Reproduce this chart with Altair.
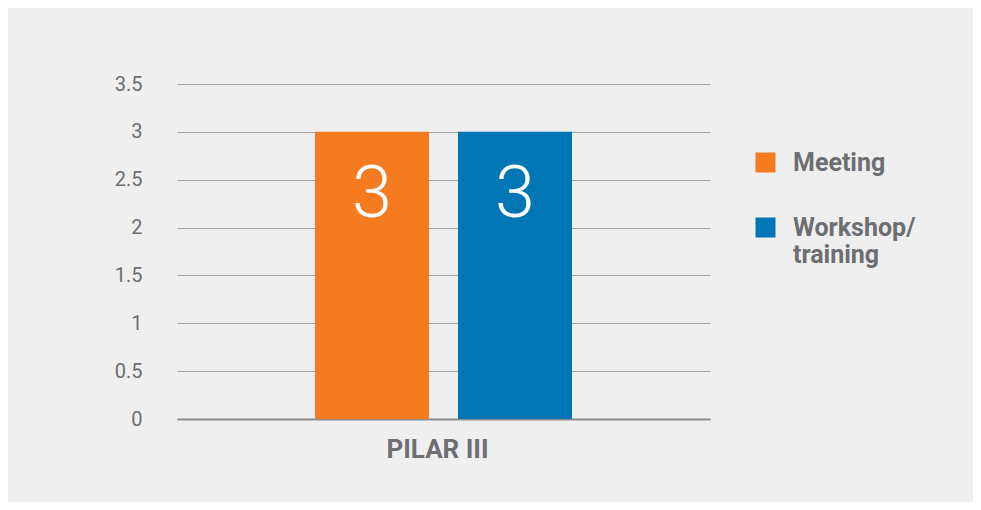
import altair as alt
import pandas as pd

categories = ["PILAR III", "PILAR III"]
series = ["Meeting", "Workshop/ training"]
values = [3, 3]
colors = ["#F47B20", "#0076B4"]
y_ticks = [0, 0.5, 1, 1.5, 2, 2.5, 3, 3.5]

df = pd.DataFrame({"category": categories, "series": series, "value": values})

GREY_TEXT = "#6d6e71"

x_enc = alt.X(
    "category:N",
    title=None,
    scale=alt.Scale(paddingInner=0, paddingOuter=0.537),
    axis=alt.Axis(
        labelAngle=0,
        labelFont="Roboto",
        labelFontSize=26,
        labelFontWeight="bold",
        labelColor=GREY_TEXT,
        labelPadding=17,
        labelOffset=-6,
        ticks=False,
        domain=True,
        domainColor="#8c8c8c",
        domainWidth=2,
        grid=False,
    ),
)
xoff_enc = alt.XOffset(
    "series:N",
    sort=series,
    scale=alt.Scale(paddingInner=0.203, paddingOuter=0),
)
y_enc = alt.Y(
    "value:Q",
    title=None,
    scale=alt.Scale(domain=[0, 3.5], nice=False),
    axis=alt.Axis(
        values=y_ticks,
        format="~g",
        labelFont="Roboto",
        labelFontSize=20,
        labelColor=GREY_TEXT,
        labelPadding=35,
        ticks=False,
        tickSize=0,
        domain=False,
        grid=True,
        gridColor="#a3a3a3",
        gridWidth=1.2,
    ),
)

bars = alt.Chart(df).mark_bar(size=114).encode(
    x=x_enc,
    xOffset=xoff_enc,
    y=y_enc,
    color=alt.Color(
        "series:N",
        sort=series,
        scale=alt.Scale(domain=series, range=colors),
        legend=alt.Legend(
            title=None,
            orient="none",
            legendX=576,
            legendY=66,
            padding=0,
            symbolType="square",
            symbolSize=400,
            symbolStrokeWidth=0,
            symbolOpacity=1,
            labelFont="Roboto",
            labelFontSize=25,
            labelFontWeight="bold",
            labelColor=GREY_TEXT,
            labelOffset=15,
            labelLimit=400,
            labelBaseline="middle",
            labelExpr="split(datum.label, ' ')",
            rowPadding=39,
        ),
    ),
)

labels = alt.Chart(df).mark_text(
    font="Roboto",
    fontSize=72,
    fontWeight=300,
    color="white",
    baseline="alphabetic",
    align="center",
    dy=85,
).encode(
    x=alt.X("category:N"),
    xOffset=alt.XOffset("series:N", sort=series),
    y=alt.Y("value:Q"),
    text=alt.Text("value:Q", format="d"),
)

chart = (
    alt.layer(bars, labels)
    .properties(
        width=533,
        height=335,
        background="#efefef",
        padding={"left": 169, "top": 76, "right": 263, "bottom": 83},
        autosize=alt.AutoSizeParams(type="none"),
    )
    .configure_view(stroke=None, fill="#efefef")
)

chart.save("out.html", embed_options={"renderer": "svg", "actions": False})
